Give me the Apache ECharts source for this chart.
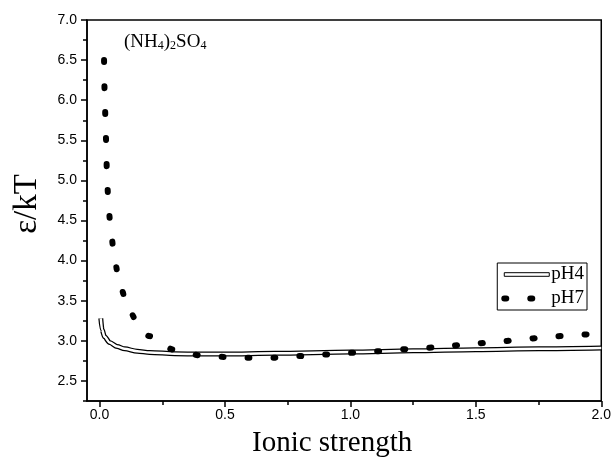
<!DOCTYPE html>
<html>
<head>
<meta charset="utf-8">
<script src="https://cdn.jsdelivr.net/npm/echarts@6/dist/echarts.min.js"></script>
<style>
  html, body { margin: 0; padding: 0; background: #fff; }
  #chart { width: 614px; height: 464px; }
</style>
</head>
<body>
<div id="chart"></div>
<script>
// ionic strength vs eps/kT
var ph4Data = [
  [0.005, 3.28], [0.01, 3.14], [0.02, 3.05], [0.04, 2.98], [0.07, 2.93],
  [0.1, 2.90], [0.15, 2.87], [0.2, 2.855], [0.3, 2.84], [0.4, 2.835],
  [0.5, 2.835], [0.7, 2.845], [1.0, 2.86], [1.25, 2.875], [1.5, 2.89],
  [1.75, 2.90], [2.0, 2.91]
]
var ph7Data = [
  [0.018, 6.5], [0.021, 6.0], [0.025, 5.55], [0.031, 4.93], [0.037, 4.61],
  [0.047, 4.30], [0.061, 3.99], [0.081, 3.68], [0.119, 3.37], [0.16, 3.17],
  [0.198, 3.06], [0.25, 2.95], [0.294, 2.89], [0.35, 2.85], [0.397, 2.82],
  [0.496, 2.80], [0.595, 2.79], [0.695, 2.79], [0.794, 2.81], [0.894, 2.83],
  [0.993, 2.85], [1.1, 2.87], [1.25, 2.90], [1.35, 2.92], [1.477, 2.96],
  [1.59, 2.99], [1.69, 3.02], [1.786, 3.05], [1.888, 3.07], [2.0, 3.10]
]
var xMajorTicks = [0, 0.5, 1.0, 1.5, 2.0]
var xMinorTicks = [0.25, 0.75, 1.25, 1.75]
var yMajorTicks = [2.5, 3.0, 3.5, 4.0, 4.5, 5.0, 5.5, 6.0, 6.5, 7.0]
var yMinorTicks = [2.25, 2.75, 3.25, 3.75, 4.25, 4.75, 5.25, 5.75, 6.25, 6.75]

var chart = echarts.init(document.getElementById('chart'))
var sans = 'Liberation Sans'
var serif = 'Liberation Serif'
var axisLineStyle = { color: '#000', width: 1.5 }

chart.setOption({
  animation: false,
  grid: {
    left: 87, right: 11, top: 20, bottom: 63,
    show: true,
    borderColor: '#000',
    borderWidth: 1.5
  },
  xAxis: [
    {
      type: 'value', min: -0.05, max: 2.0,
      axisLine: { show: true, onZero: false, lineStyle: axisLineStyle },
      axisTick: { show: true, customValues: xMajorTicks, length: 6, lineStyle: axisLineStyle },
      axisLabel: {
        customValues: xMajorTicks, margin: 7,
        fontFamily: sans, fontSize: 14, color: '#000',
        formatter: function (v) { return v.toFixed(1) }
      },
      splitLine: { show: false }
    },
    {
      type: 'value', min: -0.05, max: 2.0, position: 'bottom', offset: 0,
      axisLine: { show: false, onZero: false },
      axisTick: { show: true, customValues: xMinorTicks, length: 4, lineStyle: axisLineStyle },
      axisLabel: { show: false },
      splitLine: { show: false }
    }
  ],
  yAxis: [
    {
      type: 'value', min: 2.25, max: 7.0,
      axisLine: { show: true, onZero: false, lineStyle: axisLineStyle },
      axisTick: { show: true, customValues: yMajorTicks, length: 6, lineStyle: axisLineStyle },
      axisLabel: {
        customValues: yMajorTicks, margin: 10,
        fontFamily: sans, fontSize: 14, color: '#000',
        formatter: function (v) { return v.toFixed(1) }
      },
      splitLine: { show: false }
    },
    {
      type: 'value', min: 2.25, max: 7.0, position: 'left', offset: 0,
      axisLine: { show: false, onZero: false },
      axisTick: { show: true, customValues: yMinorTicks, length: 4, lineStyle: axisLineStyle },
      axisLabel: { show: false },
      splitLine: { show: false }
    }
  ],
  legend: {
    orient: 'vertical',
    right: 27, top: 263,
    data: [
      { name: 'pH4', icon: 'path://M0,0 L100,0 L100,8 L0,8 Z',
        itemStyle: { color: '#fff', borderColor: '#000', borderWidth: 1 } },
      { name: 'pH7', lineStyle: { width: 6, type: [2, 24], cap: 'round' },
        itemStyle: { opacity: 0 } }
    ],
    itemWidth: 45, itemHeight: 5, itemGap: 5,
    padding: [2, 3, 2, 4],
    borderColor: '#000', borderWidth: 1,
    backgroundColor: '#fff',
    textStyle: { fontFamily: serif, fontSize: 19, color: '#000', padding: [0, 0, 0, -3] }
  },
  graphic: [
    {
      type: 'text', left: 124, top: 33,
      style: {
        text: '{n|(NH}{s|4}{n|)}{s|2}{n|SO}{s|4}',
        rich: {
          n: { fontFamily: serif, fontSize: 19, fill: '#000', verticalAlign: 'bottom', lineHeight: 26 },
          s: { fontFamily: serif, fontSize: 12, fill: '#000', verticalAlign: 'bottom', lineHeight: 18 }
        }
      }
    },
    {
      type: 'text', left: 252, top: 429,
      style: { text: 'Ionic strength', fontFamily: serif, fontSize: 29, fill: '#000' }
    },
    {
      type: 'text', x: 27, y: 204, rotation: Math.PI / 2,
      style: { text: 'ε/kT', fontFamily: serif, fontSize: 33, fill: '#000', align: 'center', verticalAlign: 'middle' }
    }
  ],
  series: [
    {
      name: 'pH4', type: 'line', data: ph4Data,
      smooth: 0.3, smoothMonotone: 'x', symbol: 'none',
      lineStyle: { color: '#000', width: 5 },
      itemStyle: { color: '#fff' }
    },
    {
      name: 'pH4', type: 'line', data: ph4Data,
      smooth: 0.3, smoothMonotone: 'x', symbol: 'none',
      lineStyle: { color: '#fff', width: 2.5 },
      itemStyle: { color: '#fff' }
    },
    {
      name: 'pH7', type: 'line', data: ph7Data,
      smooth: 0.3, smoothMonotone: 'x', symbol: 'none',
      lineStyle: { color: '#000', width: 6, type: [2, 24], cap: 'round' },
      itemStyle: { color: '#000' }
    }
  ]
})
</script>
</body>
</html>
